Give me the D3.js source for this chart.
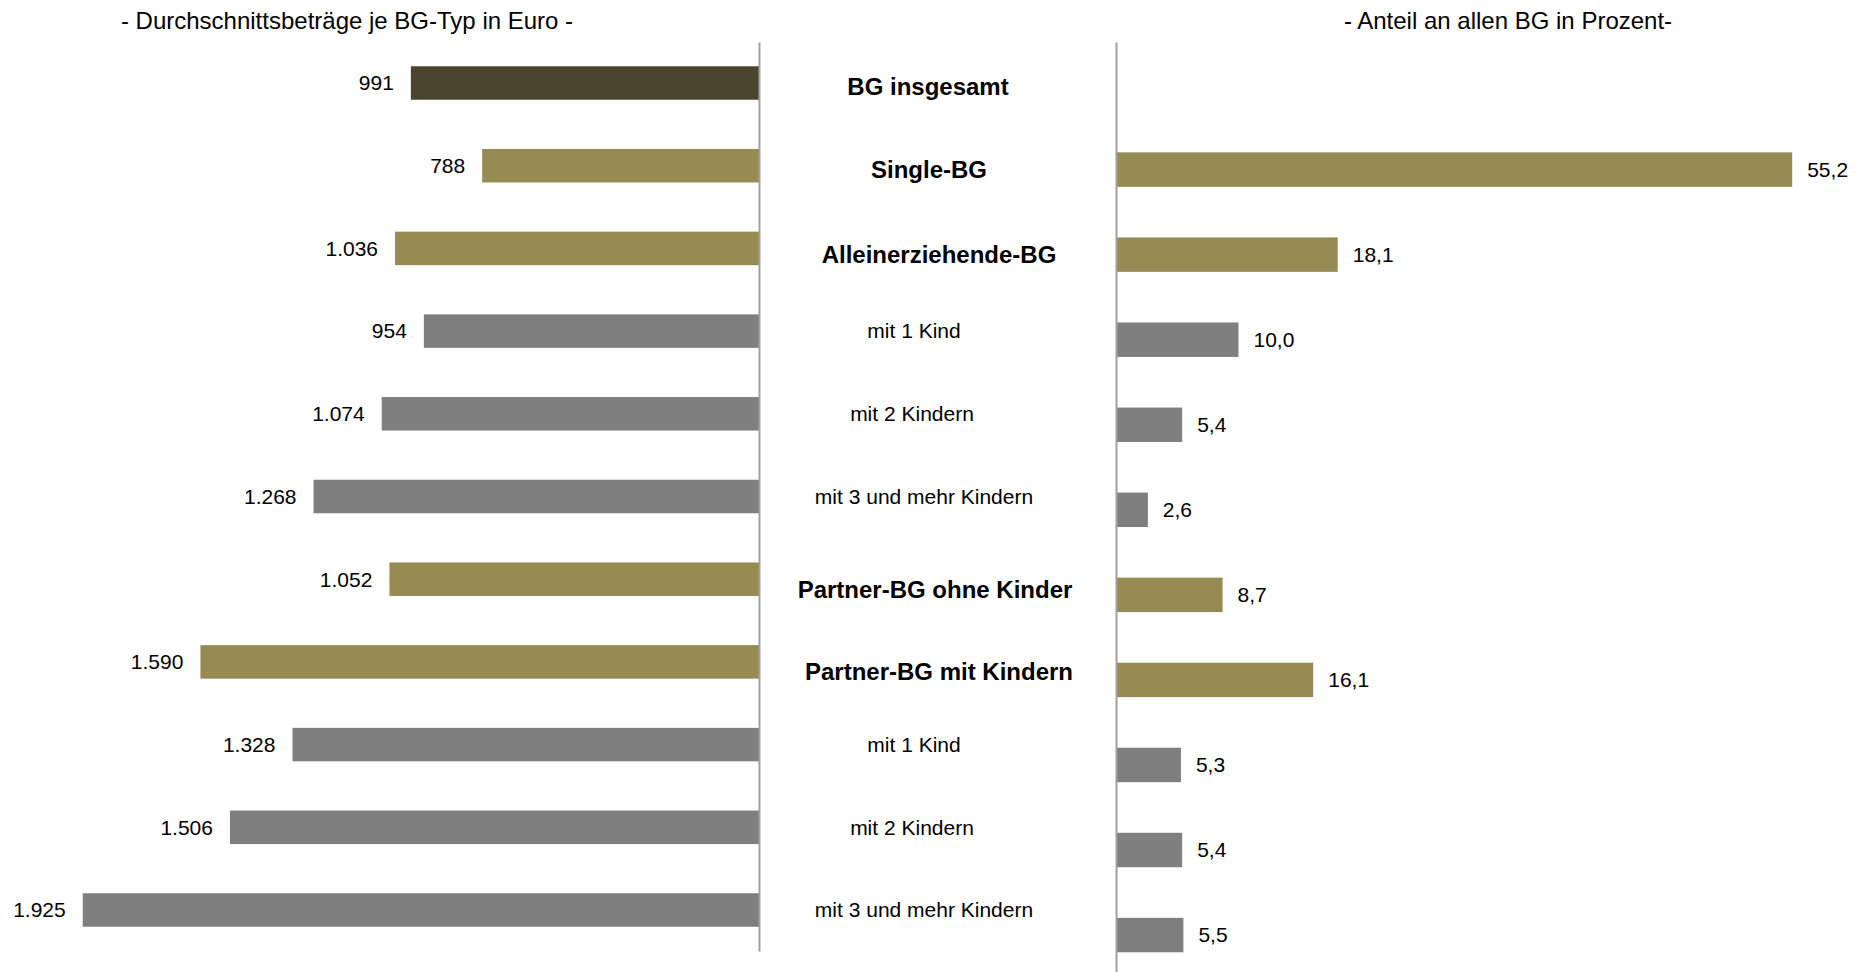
<!DOCTYPE html>
<html><head><meta charset="utf-8">
<script src="https://cdn.jsdelivr.net/npm/d3@7"></script>
<style>
html,body{margin:0;padding:0;background:#fff;}
text{font-family:"Liberation Sans",Arial,sans-serif;fill:#000;}
</style></head>
<body>
<svg id="chart" width="1869" height="972"></svg>
<script>
const categories = ["BG insgesamt","Single-BG","Alleinerziehende-BG","mit 1 Kind","mit 2 Kindern","mit 3 und mehr Kindern","Partner-BG ohne Kinder","Partner-BG mit Kindern","mit 1 Kind","mit 2 Kindern","mit 3 und mehr Kindern"];
const categoryKeys = categories.map((c,i)=>i);
const isBold = [true,true,true,false,false,false,true,true,false,false,false];
const barColorKey = ["total","main","main","sub","sub","sub","main","main","sub","sub","sub"];
const euroValues = [991,788,1036,954,1074,1268,1052,1590,1328,1506,1925];
const percentValues = [null,55.2,18.1,10.0,5.4,2.6,8.7,16.1,5.3,5.4,5.5];
const leftTitle = "- Durchschnittsbeträge je BG-Typ in Euro -";
const rightTitle = "- Anteil an allen BG in Prozent-";

// layout (not data)
const colors = {total:"#4b4530", main:"#968b53", sub:"#7f7f7f"};
const labelDx = [0,1,11,-14,-16,-4,7,11,-14,-16,-4];
const labelDy = [4,4,6,0,0,0,10,10,0,0,0];

const svg = d3.select("#chart");
const deFmtInt = v => d3.format(",")(v).replace(/,/g,".");
const deFmtDec = v => d3.format(".1f")(v).replace(".",",");

// Left chart
const xL = d3.scaleLinear().domain([0,2000]).range([759, 56.4]);
const yL = d3.scaleBand().domain(categoryKeys).range([41.65, 951.35]).paddingInner(0.595).paddingOuter(0.2975);
// Right chart
const xR = d3.scaleLinear().domain([0,60]).range([1116, 1851]);
const yR = d3.scaleBand().domain(categoryKeys).range([42, 977.6]).paddingInner(0.595).paddingOuter(0.2975);

// titles
svg.append("text").attr("x",347).attr("y",29).attr("text-anchor","middle").style("font-size","24px").text(leftTitle);
svg.append("text").attr("x",1508).attr("y",29).attr("text-anchor","middle").style("font-size","24px").text(rightTitle);

// left bars
svg.append("g").selectAll("rect").data(categoryKeys).join("rect")
  .attr("x", i=>xL(euroValues[i])).attr("width", i=>xL(0)-xL(euroValues[i]))
  .attr("y", i=>yL(i)).attr("height", yL.bandwidth())
  .attr("fill", i=>colors[barColorKey[i]]);
svg.append("g").selectAll("text").data(categoryKeys).join("text")
  .attr("x", i=>xL(euroValues[i])-17).attr("y", i=>yL(i)+yL.bandwidth()/2)
  .attr("dy","0.35em").attr("text-anchor","end").style("font-size","21px")
  .text(i=>deFmtInt(euroValues[i]));

// right bars
const rightKeys = categoryKeys.filter(i=>percentValues[i]!=null);
svg.append("g").selectAll("rect").data(rightKeys).join("rect")
  .attr("x", xR(0)).attr("width", i=>xR(percentValues[i])-xR(0))
  .attr("y", i=>yR(i)).attr("height", yR.bandwidth())
  .attr("fill", i=>colors[barColorKey[i]]);
svg.append("g").selectAll("text").data(rightKeys).join("text")
  .attr("x", i=>xR(percentValues[i])+15).attr("y", i=>yR(i)+yR.bandwidth()/2)
  .attr("dy","0.35em").attr("text-anchor","start").style("font-size","21px")
  .text(i=>deFmtDec(percentValues[i]));

// axes (vertical lines)
const axL = d3.axisRight(d3.scaleLinear().range([42,951])).ticks(0).tickSizeOuter(0);
const gL = svg.append("g").attr("transform",`translate(${xL(0)},0)`).call(axL);
const axR = d3.axisRight(d3.scaleLinear().range([42,972])).ticks(0).tickSizeOuter(0);
const gR = svg.append("g").attr("transform",`translate(${xR(0)},0)`).call(axR);
[gL,gR].forEach(g=>{g.select(".domain").attr("stroke","#a0a0a0").attr("stroke-width",2); g.selectAll(".tick").remove();});

// category labels
svg.append("g").selectAll("text").data(categoryKeys).join("text")
  .attr("x", i=>928+labelDx[i]).attr("y", i=>yL(i)+yL.bandwidth()/2+labelDy[i])
  .attr("dy","0.35em").attr("text-anchor","middle")
  .style("font-size", i=>isBold[i]?"24px":"21px")
  .style("font-weight", i=>isBold[i]?"bold":"normal")
  .text(i=>categories[i]);
</script>
</body></html>
